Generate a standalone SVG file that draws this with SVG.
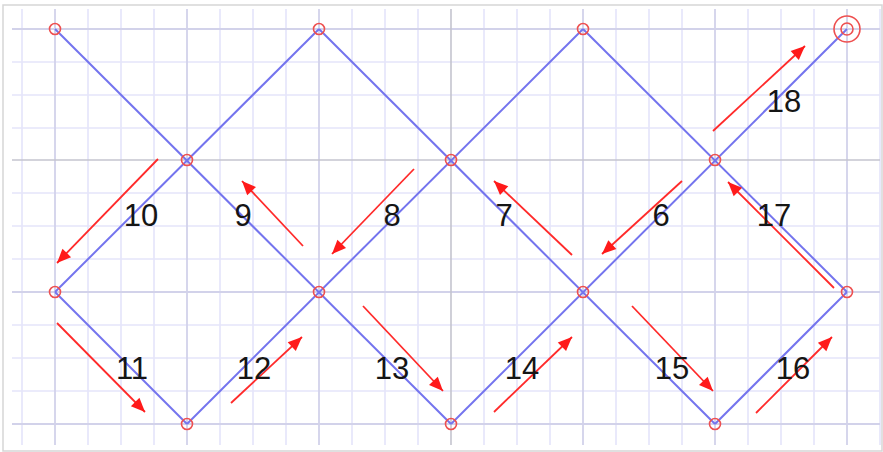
<svg xmlns="http://www.w3.org/2000/svg" width="883" height="452" viewBox="0 0 883 452">
<style>
.minor{stroke:#e4e4fa;stroke-width:1.6}
.major{stroke:#d2d2ea;stroke-width:1.8}
.axis{stroke:#c4c4cf;stroke-width:1.6}
.edge{stroke:#7474ee;stroke-width:2;fill:none}
.node{stroke:#ee5050;stroke-width:1.6;fill:none}
.arr{stroke:#ff2a2a;stroke-width:1.8;fill:none;marker-end:url(#ah)}
.lbl{font-family:"Liberation Sans",Arial,sans-serif;font-size:31px;fill:#151515;text-anchor:middle}
</style>
<defs>
<marker id="ah" markerUnits="userSpaceOnUse" markerWidth="20" markerHeight="16" viewBox="0 0 20 16" refX="16" refY="8" orient="auto">
<path d="M2,2 L16,8 L2,14 Z" fill="#ff1a1a"/>
</marker>
</defs>
<rect x="0" y="0" width="883" height="452" fill="#ffffff"/>
<rect x="3" y="5" width="879" height="446" fill="none" stroke="#d6d6d6" stroke-width="1.5"/>
<g id="grid">
<g class="minor">
<line x1="22" y1="9" x2="22" y2="445"/><line x1="88" y1="9" x2="88" y2="445"/><line x1="121" y1="9" x2="121" y2="445"/><line x1="154" y1="9" x2="154" y2="445"/>
<line x1="220" y1="9" x2="220" y2="445"/><line x1="253" y1="9" x2="253" y2="445"/><line x1="286" y1="9" x2="286" y2="445"/>
<line x1="352" y1="9" x2="352" y2="445"/><line x1="385" y1="9" x2="385" y2="445"/><line x1="418" y1="9" x2="418" y2="445"/>
<line x1="484" y1="9" x2="484" y2="445"/><line x1="517" y1="9" x2="517" y2="445"/><line x1="550" y1="9" x2="550" y2="445"/>
<line x1="616" y1="9" x2="616" y2="445"/><line x1="649" y1="9" x2="649" y2="445"/><line x1="682" y1="9" x2="682" y2="445"/>
<line x1="748" y1="9" x2="748" y2="445"/><line x1="781" y1="9" x2="781" y2="445"/><line x1="814" y1="9" x2="814" y2="445"/>
<line x1="880" y1="9" x2="880" y2="445"/>
<line x1="12" y1="62" x2="880" y2="62"/><line x1="12" y1="95" x2="880" y2="95"/><line x1="12" y1="128" x2="880" y2="128"/>
<line x1="12" y1="193" x2="880" y2="193"/><line x1="12" y1="226" x2="880" y2="226"/><line x1="12" y1="259" x2="880" y2="259"/>
<line x1="12" y1="325" x2="880" y2="325"/><line x1="12" y1="358" x2="880" y2="358"/><line x1="12" y1="391" x2="880" y2="391"/>
</g>
<g class="major">
<line x1="55" y1="9" x2="55" y2="445"/><line x1="187" y1="9" x2="187" y2="445"/><line x1="319" y1="9" x2="319" y2="445"/>
<line x1="583" y1="9" x2="583" y2="445"/><line x1="715" y1="9" x2="715" y2="445"/><line x1="847" y1="9" x2="847" y2="445"/>
<line x1="12" y1="29" x2="880" y2="29"/><line x1="12" y1="292" x2="880" y2="292"/><line x1="12" y1="424" x2="880" y2="424"/>
</g>
<g class="axis">
<line x1="451" y1="9" x2="451" y2="445"/>
<line x1="12" y1="160" x2="880" y2="160"/>
</g>
</g>
<g id="connectors">
<line class="edge" x1="55" y1="29" x2="451" y2="424"/>
<line class="edge" x1="319" y1="29" x2="715" y2="424"/>
<line class="edge" x1="583" y1="29" x2="847" y2="292"/>
<line class="edge" x1="55" y1="292" x2="187" y2="424"/>
<line class="edge" x1="55" y1="292" x2="319" y2="29"/>
<line class="edge" x1="187" y1="424" x2="583" y2="29"/>
<line class="edge" x1="451" y1="424" x2="847" y2="29"/>
<line class="edge" x1="715" y1="424" x2="847" y2="292"/>
</g>
<g id="nodes">
<g id="n1"><circle class="node" cx="55" cy="29" r="5.5"/></g>
<g id="n2"><circle class="node" cx="319" cy="29" r="5.5"/></g>
<g id="n3"><circle class="node" cx="583" cy="29" r="5.5"/></g>
<g id="n4"><circle class="node" cx="847" cy="29" r="13"/><circle class="node" cx="847" cy="29" r="6"/></g>
<g id="n5"><circle class="node" cx="187" cy="160" r="5.5"/></g>
<g id="n6"><circle class="node" cx="451" cy="160" r="5.5"/></g>
<g id="n7"><circle class="node" cx="715" cy="160" r="5.5"/></g>
<g id="n8"><circle class="node" cx="55" cy="292" r="5.5"/></g>
<g id="n9"><circle class="node" cx="319" cy="292" r="5.5"/></g>
<g id="n10"><circle class="node" cx="583" cy="292" r="5.5"/></g>
<g id="n11"><circle class="node" cx="847" cy="292" r="5.5"/></g>
<g id="n12"><circle class="node" cx="187" cy="424" r="5.5"/></g>
<g id="n13"><circle class="node" cx="451" cy="424" r="5.5"/></g>
<g id="n14"><circle class="node" cx="715" cy="424" r="5.5"/></g>
</g>
<g id="arrows">
<line class="arr" x1="158" y1="159" x2="57" y2="263"/>
<line class="arr" x1="303" y1="246" x2="242" y2="181"/>
<line class="arr" x1="414" y1="169" x2="332" y2="254"/>
<line class="arr" x1="572" y1="255" x2="494" y2="181"/>
<line class="arr" x1="682" y1="181" x2="602" y2="254"/>
<line class="arr" x1="834" y1="288" x2="728" y2="182"/>
<line class="arr" x1="713" y1="131" x2="805" y2="46"/>
<line class="arr" x1="57" y1="323" x2="145" y2="412"/>
<line class="arr" x1="231" y1="403" x2="302" y2="337"/>
<line class="arr" x1="363" y1="306" x2="443" y2="391"/>
<line class="arr" x1="494" y1="412" x2="572" y2="337"/>
<line class="arr" x1="632" y1="306" x2="713" y2="391"/>
<line class="arr" x1="756" y1="413" x2="832" y2="337"/>
</g>
<g id="labels">
<text class="lbl" x="141" y="226">10</text>
<text class="lbl" x="243" y="226">9</text>
<text class="lbl" x="392" y="226">8</text>
<text class="lbl" x="504" y="226">7</text>
<text class="lbl" x="661" y="226">6</text>
<text class="lbl" x="774" y="226">17</text>
<text class="lbl" x="784" y="112">18</text>
<text class="lbl" x="132" y="379">11</text>
<text class="lbl" x="254" y="379">12</text>
<text class="lbl" x="392" y="379">13</text>
<text class="lbl" x="522" y="379">14</text>
<text class="lbl" x="672" y="379">15</text>
<text class="lbl" x="793" y="379">16</text>
</g>
</svg>
